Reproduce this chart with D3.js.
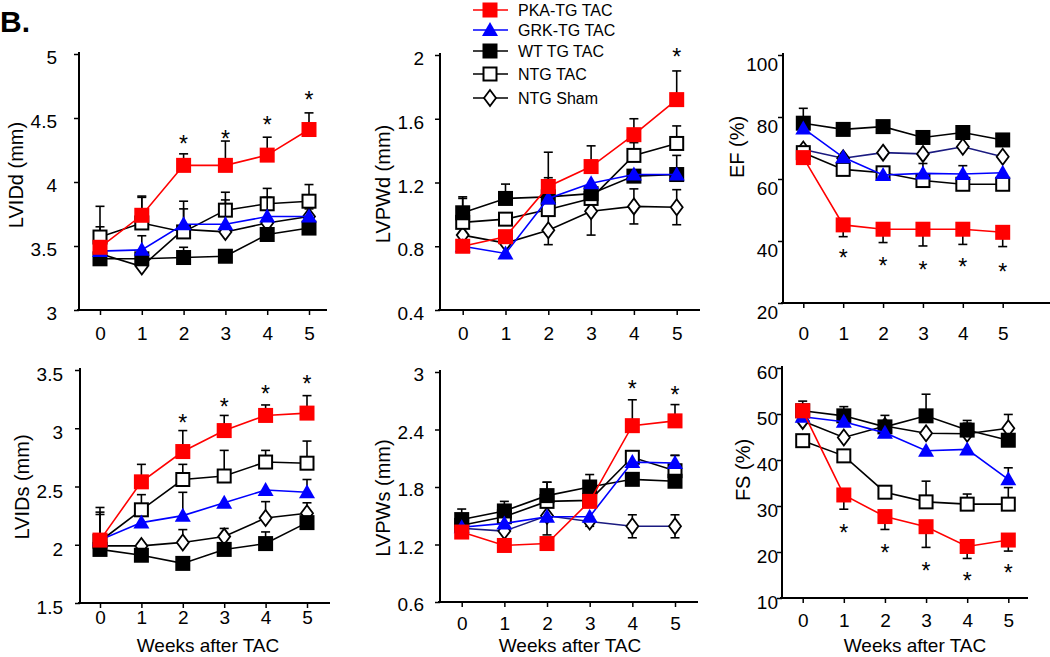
<!DOCTYPE html>
<html><head><meta charset="utf-8">
<script src="https://cdn.jsdelivr.net/npm/d3@7"></script>
<style>
body{margin:0;background:#fff}
svg{display:block}
text{font-family:"Liberation Sans",Arial,sans-serif;fill:#000}
</style>
</head><body>
<svg id="c" width="1050" height="657"></svg>
<script>
// ---------------- DATA ----------------
const weeks = [0, 1, 2, 3, 4, 5];
const seriesNames = ["PKA-TG TAC", "GRK-TG TAC", "WT TG TAC", "NTG TAC", "NTG Sham"];
const panelTitles = ["LVIDd (mm)", "LVPWd (mm)", "EF (%)", "LVIDs (mm)", "LVPWs (mm)", "FS (%)"];
const xTitle = "Weeks after TAC";

const yTicksLVIDd = ["3", "3.5", "4", "4.5", "5"];
const yTicksLVPWd = ["0.4", "0.8", "1.2", "1.6", "2"];
const yTicksEF = ["20", "40", "60", "80", "100"];
const yTicksLVIDs = ["1.5", "2", "2.5", "3", "3.5"];
const yTicksLVPWs = ["0.6", "1.2", "1.8", "2.4", "3"];
const yTicksFS = ["10", "20", "30", "40", "50", "60"];

// series order: PKA, GRK, WT, NTG TAC, NTG Sham
const LVIDd = [
  [3.49, 3.74, 4.13, 4.13, 4.21, 4.41],
  [3.46, 3.47, 3.67, 3.67, 3.73, 3.73],
  [3.40, 3.40, 3.41, 3.42, 3.59, 3.64],
  [3.57, 3.68, 3.61, 3.78, 3.83, 3.85],
  [3.44, 3.34, 3.63, 3.61, 3.68, 3.73]
];
const LVIDd_err = [
  [0, 0.15, 0.09, 0.19, 0.14, 0.13],
  [0, 0.11, 0.12, 0.19, 0.15, 0.06],
  [0, 0, 0.08, 0, 0, 0],
  [0.24, 0.20, 0.24, 0.14, 0.12, 0.13],
  [0.21, 0, 0, 0, 0, 0]
];
const LVIDd_dir = [1, 1, 1, 1, 1];
const LVIDd_stars = [[2, 4.33], [3, 4.37], [4, 4.48], [5, 4.67]];

const LVPWd = [
  [0.80, 0.86, 1.175, 1.30, 1.50, 1.72],
  [0.80, 0.755, 1.10, 1.195, 1.25, 1.25],
  [1.01, 1.10, 1.11, 1.13, 1.24, 1.25],
  [0.95, 0.97, 1.03, 1.10, 1.37, 1.445],
  [0.87, 0.82, 0.90, 1.02, 1.05, 1.045]
];
const LVPWd_err = [
  [0, 0, 0.215, 0.13, 0.10, 0.18],
  [0, 0, 0, 0, 0, 0],
  [0.10, 0.09, 0, 0, 0, 0.12],
  [0.15, 0, 0.20, 0, 0.08, 0.11],
  [0, 0, 0.09, 0.15, 0.11, 0.11]
];
const LVPWd_dir = [1, 1, 1, 1, 2];
const LVPWd_stars = [[5, 2.01]];

const EF = [
  [66.9, 45.2, 43.8, 43.8, 43.8, 42.8],
  [76.3, 67.0, 61.3, 61.8, 61.6, 62.0],
  [78.0, 76.0, 76.9, 73.4, 75.0, 72.6],
  [68.5, 63.1, 62.0, 59.5, 58.3, 58.3],
  [69.5, 66.7, 68.5, 68.1, 70.4, 67.2]
];
const EF_err = [
  [0, 3.8, 4.3, 5.4, 4.9, 4.6],
  [0, 0, 0, 3.2, 2.7, 0],
  [4.8, 0, 0, 0, 0, 0],
  [0, 0, 0, 0, 0, 0],
  [0, 0, 0, 0, 0, 0]
];
const EF_dir = [-1, 1, 1, 1, 1];
const EF_stars = [[1, 35.8], [2, 33.3], [3, 32.0], [4, 32.8], [5, 31.2]];

const LVIDs = [
  [2.04, 2.54, 2.80, 2.98, 3.11, 3.13],
  [2.04, 2.19, 2.25, 2.36, 2.47, 2.45],
  [1.96, 1.91, 1.84, 1.96, 2.01, 2.19],
  [2.03, 2.30, 2.56, 2.59, 2.71, 2.70],
  [1.99, 1.99, 2.02, 2.07, 2.23, 2.27]
];
const LVIDs_err = [
  [0.28, 0.15, 0.18, 0.13, 0.09, 0.15],
  [0.22, 0, 0.20, 0, 0, 0.11],
  [0, 0, 0, 0, 0.10, 0],
  [0.25, 0.13, 0.13, 0.22, 0.10, 0.19],
  [0, 0, 0.11, 0.07, 0.14, 0.09]
];
const LVIDs_dir = [1, 1, 1, 1, 1];
const LVIDs_stars = [[2, 3.08], [3, 3.22], [4, 3.33], [5, 3.41]];

const LVPWs = [
  [1.33, 1.19, 1.21, 1.65, 2.44, 2.49],
  [1.38, 1.42, 1.49, 1.49, 2.06, 2.05],
  [1.46, 1.55, 1.71, 1.80, 1.88, 1.86],
  [1.40, 1.49, 1.65, 1.66, 2.11, 1.97],
  [1.37, 1.34, 1.50, 1.44, 1.39, 1.39]
];
const LVPWs_err = [
  [0, 0, 0, 0, 0.27, 0.17],
  [0, 0, 0, 0, 0, 0.08],
  [0.11, 0.10, 0.14, 0.13, 0, 0],
  [0, 0, 0.20, 0, 0.06, 0.16],
  [0, 0, 0.20, 0.05, 0.12, 0.12]
];
const LVPWs_dir = [1, 1, 1, 1, 2];
const LVPWs_stars = [[4, 2.86], [5, 2.80]];

const FS = [
  [50.7, 32.4, 27.7, 25.5, 21.2, 22.6],
  [49.4, 48.3, 45.9, 42.0, 42.3, 35.8],
  [50.7, 49.6, 47.2, 49.6, 46.5, 44.3],
  [44.2, 40.9, 33.0, 30.9, 30.4, 30.4],
  [48.5, 44.9, 47.4, 45.8, 45.7, 46.9]
];
const FS_err = [
  [0, 3.1, 2.8, 4.5, 2.6, 2.4],
  [0, 0, 0, 0, 0, 2.5],
  [2.1, 2.0, 2.5, 4.7, 1.5, 0],
  [0, 0, 0, 4.5, 2.2, 3.6],
  [0, 0, 0, 0, 2.9, 3.0]
];
const FS_dir = [-1, 1, 1, 1, 1];
const FS_stars = [[1, 24.9], [2, 20.6], [3, 16.8], [4, 14.6], [5, 16.2]];

// ---------------- STYLE / LAYOUT ----------------
const seriesColors = ["#ff0000", "#0000ff", "#000000", "#000000", "#000000"];
const seriesShapes = ["sqFill", "tri", "sqFill", "sqOpen", "diamond"];
const shamLineColor = ["#000", "#000", "#1a1a80", "#000", "#1a1a80", "#000"];

const panels = [
  {title: panelTitles[0], data: LVIDd, err: LVIDd_err, dir: LVIDd_dir, stars: LVIDd_stars, ticks: yTicksLVIDd,
   ax: 79, yr: [310, 54], xr: [100, 309], xEnd: 327, gap: 22, dy: 3, xl: 333, tx: 16, ty: 175, xt: null},
  {title: panelTitles[1], data: LVPWd, err: LVPWd_err, dir: LVPWd_dir, stars: LVPWd_stars, ticks: yTicksLVPWd,
   ax: 440, yr: [310, 55], xr: [462.7, 676.7], xEnd: 700, gap: 16, dy: 3, xl: 333, tx: 383, ty: 184, xt: null},
  {title: panelTitles[2], data: EF, err: EF_err, dir: EF_dir, stars: EF_stars, ticks: yTicksEF,
   ax: 783, yr: [303, 55], xr: [803.3, 1002.7], xEnd: 1050, gap: 5, dy: 9, xl: 333, tx: 737, ty: 147, xt: null},
  {title: panelTitles[3], data: LVIDs, err: LVIDs_err, dir: LVIDs_dir, stars: LVIDs_stars, ticks: yTicksLVIDs,
   ax: 80, yr: [603, 370], xr: [100, 307], xEnd: 330, gap: 17, dy: 4, xl: 617, tx: 22, ty: 487, xt: [208, 652]},
  {title: panelTitles[4], data: LVPWs, err: LVPWs_err, dir: LVPWs_dir, stars: LVPWs_stars, ticks: yTicksLVPWs,
   ax: 440, yr: [602, 372], xr: [461.7, 675], xEnd: 698, gap: 16, dy: 2, xl: 623, tx: 383, ty: 498, xt: [570, 652]},
  {title: panelTitles[5], data: FS, err: FS_err, dir: FS_dir, stars: FS_stars, ticks: yTicksFS,
   ax: 782, yr: [598, 368], xr: [802.7, 1008.3], xEnd: 1028, gap: 4, dy: 4, xl: 620, tx: 743, ty: 470, xt: [915, 652]}
];

const svg = d3.select("#c");

function drawMarker(g, shape, color, cx, cy) {
  if (shape === "sqFill") {
    g.append("rect").attr("x", cx - 7.5).attr("y", cy - 7.5).attr("width", 15).attr("height", 15)
      .attr("fill", color);
  } else if (shape === "sqOpen") {
    g.append("rect").attr("x", cx - 6.5).attr("y", cy - 6.5).attr("width", 13).attr("height", 13)
      .attr("fill", "#fff").attr("stroke", "#000").attr("stroke-width", 2);
  } else if (shape === "tri") {
    g.append("path").attr("d", `M${cx},${cy - 8}L${cx + 8},${cy + 6}L${cx - 8},${cy + 6}Z`).attr("fill", color);
  } else if (shape === "diamond") {
    g.append("path").attr("d", `M${cx},${cy - 8}L${cx + 6},${cy}L${cx},${cy + 8}L${cx - 6},${cy}Z`)
      .attr("fill", "#fff").attr("stroke", "#000").attr("stroke-width", 1.8);
  }
}

panels.forEach((p, pi) => {
  const tickNums = p.ticks.map(Number);
  const y = d3.scaleLinear().domain([tickNums[0], tickNums[tickNums.length - 1]]).range(p.yr);
  const x = d3.scaleLinear().domain([0, 5]).range(p.xr);
  const g = svg.append("g");

  // y axis
  const yAx = g.append("g").attr("transform", `translate(${p.ax},0)`)
    .call(d3.axisLeft(y).tickValues(tickNums).tickSize(5).tickSizeOuter(0).tickFormat((d, i) => p.ticks[i]));
  yAx.select(".domain").remove();
  yAx.selectAll(".tick line").attr("stroke", "#000").attr("stroke-width", 1.5);
  yAx.selectAll(".tick text").attr("x", -p.gap).attr("dy", null).attr("dominant-baseline", "central")
    .attr("y", p.dy).style("font-size", "19px").style("font-family", "Liberation Sans, Arial, sans-serif").attr("fill", "#000");
  g.append("line").attr("x1", p.ax).attr("x2", p.ax).attr("y1", p.yr[1] - 2).attr("y2", p.yr[0] + 1)
    .attr("stroke", "#000").attr("stroke-width", 2);

  // x axis
  const xAx = g.append("g").attr("transform", `translate(0,${p.yr[0]})`)
    .call(d3.axisBottom(x).tickValues(weeks).tickSize(5).tickSizeOuter(0).tickFormat(d3.format("d")));
  xAx.select(".domain").remove();
  xAx.selectAll(".tick line").attr("stroke", "#000").attr("stroke-width", 1.5);
  xAx.selectAll(".tick text").attr("y", p.xl - p.yr[0]).attr("dy", null).attr("dominant-baseline", "central")
    .style("font-size", "19px").style("font-family", "Liberation Sans, Arial, sans-serif").attr("fill", "#000");
  g.append("line").attr("x1", p.ax - 2).attr("x2", p.xEnd).attr("y1", p.yr[0]).attr("y2", p.yr[0])
    .attr("stroke", "#000").attr("stroke-width", 2);

  // titles
  g.append("text").attr("transform", `translate(${p.tx},${p.ty}) rotate(-90)`)
    .attr("text-anchor", "middle").attr("dominant-baseline", "central").style("font-size", "20px").text(p.title);
  if (p.xt) {
    g.append("text").attr("x", p.xt[0]).attr("y", p.xt[1]).attr("text-anchor", "middle")
      .style("font-size", "19px").text(xTitle);
  }

  const line = d3.line().x((d, i) => x(weeks[i])).y(d => y(d));
  const order = [4, 3, 2, 1, 0];
  order.forEach(si => {
    const vals = p.data[si];
    const lc = si === 4 ? shamLineColor[pi] : seriesColors[si];
    // error bars
    vals.forEach((v, i) => {
      const e = p.err[si][i];
      if (!e) return;
      const dirs = p.dir[si] === 2 ? [1, -1] : [p.dir[si]];
      dirs.forEach(dd => {
        const yEnd = y(v + dd * e);
        g.append("line").attr("x1", x(weeks[i])).attr("x2", x(weeks[i])).attr("y1", y(v)).attr("y2", yEnd)
          .attr("stroke", "#000").attr("stroke-width", 1.6);
        g.append("line").attr("x1", x(weeks[i]) - 4.5).attr("x2", x(weeks[i]) + 4.5).attr("y1", yEnd).attr("y2", yEnd)
          .attr("stroke", "#000").attr("stroke-width", 1.6);
      });
    });
    g.append("path").attr("d", line(vals)).attr("fill", "none").attr("stroke", lc).attr("stroke-width", 1.6);
    vals.forEach((v, i) => drawMarker(g, seriesShapes[si], seriesColors[si], x(weeks[i]), y(v)));
  });

  // significance stars
  p.stars.forEach(s => {
    g.append("text").attr("x", x(s[0])).attr("y", y(s[1]) + 12).attr("text-anchor", "middle")
      .style("font-size", "23px").attr("fill", "#222").text("*");
  });
});

// panel label
svg.append("text").attr("x", 0).attr("y", 32).style("font-size", "30px").style("font-weight", "bold").text("B.");

// legend
const legend = svg.append("g");
const legY = [10, 30, 51, 74, 98];
seriesNames.forEach((name, i) => {
  legend.append("line").attr("x1", 473).attr("x2", 508).attr("y1", legY[i]).attr("y2", legY[i])
    .attr("stroke", seriesColors[i]).attr("stroke-width", 1.6);
  drawMarker(legend, seriesShapes[i], seriesColors[i], 490, legY[i]);
  legend.append("text").attr("x", 518).attr("y", legY[i]).attr("dominant-baseline", "central")
    .style("font-size", "16px").text(name);
});
</script>
</body></html>
